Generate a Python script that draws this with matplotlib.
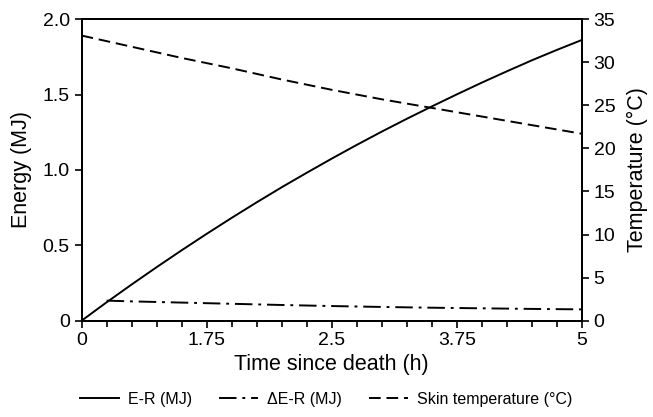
import matplotlib
matplotlib.use("Agg")
import matplotlib.pyplot as plt
from matplotlib.ticker import FixedLocator, MultipleLocator

plt.rcParams['font.family'] = ['Liberation Sans', 'DejaVu Sans']

# Time since death (h)
time_h = [0, 0.25, 0.5, 0.75, 1.0, 1.25, 1.5, 1.75, 2.0, 2.25, 2.5,
          2.75, 3.0, 3.25, 3.5, 3.75, 4.0, 4.25, 4.5, 4.75, 5.0]
# E-R (MJ)
er = [0, 0.122, 0.240, 0.355, 0.467, 0.576, 0.682, 0.785, 0.885, 0.981, 1.075,
      1.166, 1.254, 1.339, 1.421, 1.501, 1.579, 1.654, 1.727, 1.796, 1.862]

# Delta E-R (MJ), starts at 0.25 h
delta_time = [0.25, 0.5, 1.0, 1.5, 2.0, 2.5, 3.0, 3.5, 4.0, 4.5, 5.0]
delta_er = [0.133, 0.128, 0.12, 0.112, 0.104, 0.097, 0.091, 0.086, 0.082, 0.078, 0.075]

# Skin temperature (C)
temp_time = [0, 0.5, 1.0, 1.5, 2.0, 2.5, 3.0, 3.5, 4.0, 4.5, 5.0]
skin_temp = [33.1, 31.8, 30.5, 29.3, 28.0, 26.8, 25.7, 24.7, 23.7, 22.7, 21.7]

# tick labels as printed on the original figure
x_ticks = [0, 1.25, 2.5, 3.75, 5]
x_labels = ["0", "1.75", "2.5", "3.75", "5"]
y_ticks = [0, 0.5, 1.0, 1.5, 2.0]
y_labels = ["0", "0.5", "1.0", "1.5", "2.0"]
t_ticks = [0, 5, 10, 15, 20, 25, 30, 35]


def plot_energy():
    fig = plt.figure(figsize=(6.53, 4.17), dpi=100)
    ax = fig.add_axes([0.125, 0.231, 0.766, 0.723])
    ax2 = ax.twinx()

    l1, = ax.plot(time_h, er, color="black", lw=1.4, linestyle="-", label="E-R (MJ)")
    l2, = ax.plot(delta_time, delta_er, color="black", lw=1.4,
                  linestyle=(0, (9, 3, 1.5, 3)), label="\u0394E-R (MJ)")
    l3, = ax2.plot(temp_time, skin_temp, color="black", lw=1.4,
                   linestyle=(0, (6, 3)), label="Skin temperature (\u00b0C)")

    ax.set_xlim(0, 5)
    ax.set_ylim(0, 2.0)
    ax2.set_ylim(0, 35)

    ax.xaxis.set_major_locator(FixedLocator(x_ticks))
    ax.set_xticklabels(x_labels)
    ax.xaxis.set_minor_locator(MultipleLocator(0.25))
    ax.set_yticks(y_ticks)
    ax.set_yticklabels(y_labels)
    ax2.set_yticks(t_ticks)

    for a in (ax, ax2):
        a.tick_params(which="major", direction="out", length=5, width=1.2,
                      labelsize=14, colors="black")
        a.tick_params(which="minor", direction="out", length=4, width=1.2)
        for s in a.spines.values():
            s.set_linewidth(1.4)

    ax.set_xlabel("Time since death (h)", fontsize=15.5, labelpad=3)
    ax.set_ylabel("Energy (MJ)", fontsize=15.5, labelpad=8)
    ax2.set_ylabel("Temperature (\u00b0C)", fontsize=15.5, labelpad=8)

    fig.legend(handles=[l1, l2, l3], loc="center", bbox_to_anchor=(0.5, 0.042),
               ncol=3, frameon=False, fontsize=11.5, handlelength=2.4,
               columnspacing=1.7, handletextpad=0.6)

    plt.savefig("out.png", dpi=100)


if __name__ == "__main__":
    plot_energy()
